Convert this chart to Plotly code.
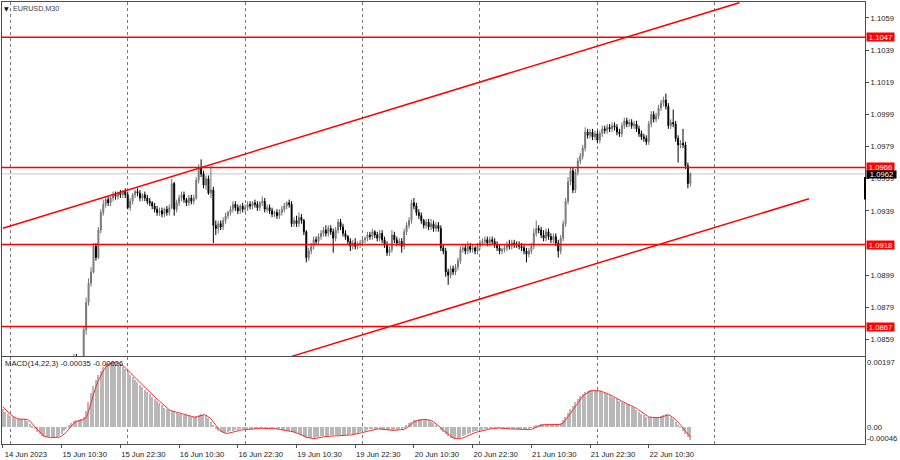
import plotly.graph_objects as go

# ---------------- data ----------------
BASE = 1.0900          # prices below are stored as pips above this base
PIP = 0.0001
first_bar = 29         # earlier bars of 14-15 Jun are below the visible price range
first_open_pips = -56

close_pips = [
    -52, -54, -55, -56, -35, -18, -6, 1, 17, 10,
    27, 38, 43, 46, 44, 47, 49, 48, 50, 49,
    51, 49, 41, 45, 49, 51, 50, 47, 49, 47,
    45, 44, 42, 40, 38, 39, 37, 40, 38, 41,
    56, 40, 44, 47, 49, 46, 44, 47, 45, 47,
    58, 66, 62, 55, 59, 50, 52, 30, 28, 31,
    29, 33, 36, 38, 40, 43, 41, 39, 42, 40,
    41, 43, 42, 44, 43, 41, 44, 45, 40, 41,
    39, 37, 38, 36, 38, 40, 42, 44, 43, 31,
    33, 31, 35, 33, 26, 10, 14, 17, 21, 20,
    23, 25, 27, 25, 28, 26, 22, 27, 32, 29,
    25, 23, 20, 17, 19, 17, 18, 19, 21, 22,
    24, 23, 26, 24, 22, 25, 21, 18, 13, 15,
    24, 21, 19, 20, 17, 26, 30, 33, 44, 42,
    38, 36, 33, 30, 32, 29, 31, 28, 30, 28,
    16, 14, 1, -1, 3, 1, 4, 8, 15, 16,
    14, 17, 15, 16, 14, 17, 19, 20, 21, 19,
    21, 20, 18, 16, 14, 15, 16, 18, 17, 19,
    18, 18, 17, 16, 14, 12, 14, 17, 25, 28,
    27, 24, 22, 26, 23, 21, 23, 19, 14, 22,
    31, 45, 57, 64, 52, 63, 70, 73, 78, 88,
    86, 88, 85, 87, 83, 87, 90, 89, 91, 90,
    92, 91, 88, 87, 92, 95, 93, 94, 92, 93,
    90, 87, 85, 84, 82, 93, 99, 96, 98, 103,
    106, 108, 104, 92, 94, 93, 84, 80, 81, 80,
    67, 56, 62,
]
wick_up_pips = [
    2, 2, 1, 1, 2, 3, 3, 3, 2, 2,
    2, 2, 3, 2, 2, 2, 2, 2, 1, 2,
    1, 2, 2, 2, 1, 1, 2, 2, 1, 2,
    2, 2, 1, 2, 2, 2, 2, 1, 2, 2,
    3, 1, 2, 2, 2, 2, 1, 2, 2, 2,
    2, 2, 5, 2, 2, 2, 15, 2, 3, 2,
    2, 2, 2, 1, 2, 2, 2, 2, 1, 2,
    2, 2, 2, 1, 2, 2, 1, 3, 2, 2,
    2, 2, 1, 2, 2, 2, 2, 1, 2, 2,
    2, 3, 3, 2, 1, 1, 2, 2, 2, 2,
    2, 2, 2, 3, 2, 2, 2, 2, 2, 2,
    2, 2, 1, 2, 2, 3, 2, 2, 2, 1,
    2, 2, 2, 1, 2, 2, 2, 2, 2, 2,
    3, 2, 2, 2, 2, 2, 2, 2, 2, 3,
    2, 2, 2, 1, 2, 2, 3, 2, 2, 2,
    2, 2, 2, 2, 2, 2, 2, 2, 2, 2,
    2, 3, 2, 2, 1, 2, 2, 2, 2, 2,
    2, 2, 2, 2, 2, 1, 2, 2, 3, 2,
    2, 2, 2, 2, 2, 2, 2, 2, 3, 5,
    2, 2, 3, 2, 2, 2, 2, 2, 2, 2,
    2, 2, 3, 2, 2, 2, 2, 2, 2, 3,
    2, 2, 2, 2, 2, 2, 2, 2, 2, 2,
    2, 2, 2, 2, 2, 2, 2, 2, 2, 2,
    2, 2, 2, 2, 2, 2, 2, 2, 2, 2,
    2, 2, 4, 2, 2, 8, 2, 2, 2, 9,
    2, 2, 1,
]
wick_dn_pips = [
    2, 2, 2, 2, 6, 3, 2, 2, 1, 2,
    1, 2, 2, 2, 2, 2, 2, 2, 2, 2,
    2, 2, 1, 2, 2, 2, 2, 2, 2, 2,
    2, 2, 2, 2, 2, 2, 2, 2, 2, 2,
    1, 4, 2, 2, 2, 2, 2, 2, 2, 2,
    1, 2, 2, 2, 3, 1, 3, 11, 4, 3,
    2, 2, 2, 2, 2, 2, 2, 2, 2, 2,
    2, 2, 2, 2, 2, 2, 2, 2, 2, 2,
    2, 2, 2, 2, 2, 2, 2, 2, 2, 2,
    2, 2, 2, 2, 2, 3, 2, 2, 2, 2,
    2, 2, 2, 2, 2, 2, 9, 2, 2, 2,
    2, 2, 2, 3, 2, 2, 2, 2, 2, 2,
    2, 2, 2, 2, 2, 2, 2, 2, 2, 2,
    2, 2, 2, 2, 4, 2, 2, 2, 2, 2,
    2, 2, 2, 2, 2, 2, 2, 2, 2, 2,
    2, 2, 3, 6, 2, 2, 2, 2, 2, 2,
    2, 2, 2, 2, 2, 2, 2, 2, 2, 2,
    2, 2, 2, 2, 2, 2, 2, 2, 2, 2,
    2, 2, 2, 2, 2, 5, 2, 2, 2, 2,
    2, 2, 2, 2, 2, 2, 2, 2, 4, 2,
    2, 2, 2, 2, 2, 2, 2, 2, 2, 2,
    2, 2, 2, 2, 2, 2, 2, 2, 2, 2,
    2, 2, 2, 2, 2, 2, 2, 2, 2, 2,
    2, 2, 2, 2, 2, 2, 2, 2, 2, 2,
    2, 2, 2, 2, 2, 2, 2, 11, 2, 2,
    2, 3, 2,
]

# MACD(14,22,3), units of 1e-5, one value per bar from bar 0 (14 Jun 10:30)
macd_main = [
    50, 43, 37, 32, 28, 25, 24, 24, 23, 23,
    18, 10, 3, -5, -13, -19, -24, -27, -28, -28,
    -28, -28, -27, -24, -19, -12, -4, 5, 13, 17,
    19, 20, 23, 28, 45, 70, 95, 115, 132, 147,
    159, 169, 176, 180, 184, 186, 183, 178, 174, 168,
    162, 155, 147, 140, 133, 126, 119, 112, 105, 98,
    92, 86, 80, 74, 68, 62, 55, 50, 47, 45,
    42, 40, 38, 36, 35, 33, 32, 30, 29, 31,
    34, 36, 35, 31, 25, 16, 6, -3, -10, -14,
    -16, -16, -14, -12, -10, -8, -7, -6, -6, -5,
    -5, -4, -3, -3, -2, -2, -2, -2, -3, -3,
    -4, -4, -5, -6, -7, -8, -9, -10, -12, -15,
    -17, -20, -23, -27, -29, -31, -31, -30, -28, -27,
    -26, -25, -24, -24, -23, -23, -23, -22, -22, -22,
    -21, -21, -20, -19, -18, -16, -14, -12, -10, -8,
    -6, -5, -4, -4, -5, -6, -7, -8, -8, -8,
    -7, -7, -6, -5, -1, 5, 11, 16, 19, 21,
    23, 23, 23, 22, 20, 16, 11, 6, 0, -7,
    -13, -18, -24, -29, -31, -32, -31, -29, -26, -22,
    -18, -16, -14, -12, -10, -9, -7, -5, -4, -3,
    -2, -1, -1, -2, -3, -3, -4, -4, -4, -5,
    -5, -5, -5, -6, -6, -5, -2, 2, 5, 7,
    8, 8, 8, 8, 8, 8, 8, 9, 13, 21,
    30, 40, 50, 60, 70, 80, 88, 94, 99, 102,
    104, 104, 104, 103, 101, 99, 96, 93, 89, 85,
    81, 78, 74, 71, 67, 64, 61, 58, 54, 49,
    44, 38, 33, 30, 29, 28, 28, 28, 29, 32,
    35, 36, 33, 28, 22, 15, 7, -2, -11, -19,
    -27, -35,
]
macd_signal = [
    58, 50, 43, 37, 32, 28, 25, 24, 24, 23,
    23, 18, 10, 3, -5, -13, -19, -24, -27, -28,
    -28, -28, -28, -27, -24, -19, -12, -4, 5, 13,
    17, 19, 20, 23, 28, 45, 70, 95, 115, 132,
    147, 159, 169, 176, 180, 182, 183, 181, 178, 174,
    168, 162, 155, 147, 140, 133, 126, 119, 112, 105,
    98, 92, 86, 80, 74, 68, 62, 55, 50, 47,
    45, 42, 40, 38, 36, 35, 33, 32, 30, 29,
    31, 34, 36, 35, 31, 25, 16, 6, -3, -10,
    -14, -16, -16, -14, -12, -10, -8, -7, -6, -6,
    -5, -5, -4, -3, -3, -2, -2, -2, -2, -3,
    -3, -4, -4, -5, -6, -7, -8, -9, -10, -12,
    -15, -17, -20, -23, -27, -29, -31, -31, -30, -28,
    -27, -26, -25, -24, -24, -23, -23, -23, -22, -22,
    -22, -21, -21, -20, -19, -18, -16, -14, -12, -10,
    -8, -6, -5, -4, -4, -5, -6, -7, -8, -8,
    -8, -7, -7, -6, -5, -1, 5, 11, 16, 19,
    21, 23, 23, 23, 22, 20, 16, 11, 6, 0,
    -7, -13, -18, -24, -29, -31, -32, -31, -29, -26,
    -22, -18, -16, -14, -12, -10, -9, -7, -5, -4,
    -3, -2, -1, -1, -2, -3, -3, -4, -4, -4,
    -5, -5, -5, -5, -6, -6, -5, -2, 2, 5,
    7, 8, 8, 8, 8, 8, 8, 8, 9, 13,
    21, 30, 40, 50, 60, 70, 80, 88, 94, 99,
    102, 104, 104, 104, 103, 101, 99, 96, 93, 89,
    85, 81, 78, 74, 71, 67, 64, 61, 58, 54,
    49, 44, 38, 33, 30, 29, 28, 28, 28, 29,
    32, 35, 36, 33, 28, 22, 15, 7, -2, -11,
    -19, -26,
]
MACD_UNIT = 1e-5
macd_max, macd_min = 0.00197, -0.00046

levels = [1.1047, 1.0966, 1.0918, 1.0867]
bid_price = 1.0962
last_bar_range = [1.0946, 1.0960]   # short black marker on the price scale

upper_trend_bar = [0, 301]
upper_trend_price = [1.09282, 1.10685]
lower_trend_bar = [118, 329.5]
lower_trend_price = [1.08485, 1.09465]

time_tick_bars = [0, 24, 48, 72, 96, 120, 144, 168, 192, 216, 240, 264]
time_tick_labels = ["14 Jun 2023", "15 Jun 10:30", "15 Jun 22:30", "16 Jun 10:30",
                    "16 Jun 22:30", "19 Jun 10:30", "19 Jun 22:30", "20 Jun 10:30",
                    "20 Jun 22:30", "21 Jun 10:30", "21 Jun 22:30", "22 Jun 10:30"]
grid_bars = [3, 51, 99, 147, 195, 243, 291]
# 1.0919 sits under the 1.0918 level tag, so it is not shown
price_ticks = [1.1059, 1.1039, 1.1019, 1.0999, 1.0979, 1.0959,
               1.0939, 1.0899, 1.0879, 1.0859]
price_range = [1.084847, 1.106891]
bar_range = [-0.4, 352.4]

# ---------------- derived OHLC ----------------
open_pips = [first_open_pips] + close_pips[:-1]
bars = list(range(first_bar, first_bar + len(close_pips)))
o = [BASE + v * PIP for v in open_pips]
c = [BASE + v * PIP for v in close_pips]
h = [BASE + (max(a, b) + u) * PIP for a, b, u in zip(open_pips, close_pips, wick_up_pips)]
l = [BASE + (min(a, b) - d) * PIP for a, b, d in zip(open_pips, close_pips, wick_dn_pips)]
macd_x = list(range(len(macd_main)))

FONT = "Liberation Sans, Arial, sans-serif"
AXC = "#4d4d4d"
TXT = "#222222"

fig = go.Figure()
fig.add_trace(go.Candlestick(
    x=bars, open=o, high=h, low=l, close=c, xaxis="x", yaxis="y",
    increasing=dict(line=dict(color="#737373", width=1), fillcolor="#a8a8a8"),
    decreasing=dict(line=dict(color="#000000", width=1), fillcolor="#000000"),
    whiskerwidth=0, hoverinfo="skip", showlegend=False))
fig.add_trace(go.Scatter(x=upper_trend_bar, y=upper_trend_price, mode="lines",
                         line=dict(color="#ff0000", width=1.5), xaxis="x", yaxis="y",
                         hoverinfo="skip", showlegend=False))
fig.add_trace(go.Scatter(x=lower_trend_bar, y=lower_trend_price, mode="lines",
                         line=dict(color="#ff0000", width=1.5), xaxis="x", yaxis="y",
                         hoverinfo="skip", showlegend=False))
fig.add_trace(go.Bar(x=macd_x, y=[v * MACD_UNIT for v in macd_main], width=0.5,
                     marker=dict(color="#b8b8b8", line=dict(width=0)),
                     xaxis="x2", yaxis="y2", hoverinfo="skip", showlegend=False))
fig.add_trace(go.Scatter(x=macd_x, y=[v * MACD_UNIT for v in macd_signal], mode="lines",
                         line=dict(color="#ff2a2a", width=1), xaxis="x2", yaxis="y2",
                         hoverinfo="skip", showlegend=False))

shapes = []
shapes.append(dict(type="line", xref="paper", x0=0, x1=1, yref="y", y0=bid_price, y1=bid_price,
                   line=dict(color="#c8c8c8", width=1), layer="below"))
for lv in levels:
    shapes.append(dict(type="line", xref="paper", x0=0, x1=1, yref="y", y0=lv, y1=lv,
                       line=dict(color="#ff0000", width=1.5)))
shapes.append(dict(type="line", xref="paper", x0=1, x1=1, yref="y",
                   y0=last_bar_range[0], y1=last_bar_range[1],
                   line=dict(color="#000000", width=2)))

annotations = []
for lv in levels:
    annotations.append(dict(xref="paper", x=1, xanchor="left", xshift=1, yref="y", y=lv,
                            yanchor="middle", text=f"{lv:.4f}", showarrow=False,
                            bgcolor="#ff0000", width=27, height=8, borderpad=0,
                            font=dict(family=FONT, size=7.7, color="white")))
annotations.append(dict(xref="paper", x=1, xanchor="left", xshift=1, yref="y", y=bid_price,
                        yanchor="middle", yshift=-1, text=f"{bid_price:.4f}", showarrow=False,
                        bgcolor="#000000", width=29, height=7, borderpad=0,
                        font=dict(family=FONT, size=7.7, color="white")))
for val, anc in [(macd_max, "top"), (0.0, "middle"), (macd_min, "bottom")]:
    annotations.append(dict(xref="paper", x=1, xanchor="left", xshift=1, yref="y2", y=val,
                            yanchor=anc, text=("0.00" if val == 0 else f"{val:.5f}"),
                            showarrow=False, borderpad=0,
                            font=dict(family=FONT, size=7.7, color=TXT)))
annotations.append(dict(xref="paper", x=0, xanchor="left", xshift=1, yref="paper", y=1,
                        yanchor="top", yshift=-2, text="\u25BC", showarrow=False, borderpad=0,
                        font=dict(family="DejaVu Sans", size=6, color="#111")))
annotations.append(dict(xref="paper", x=0, xanchor="left", xshift=10, yref="paper", y=1,
                        yanchor="top", yshift=-1, text="EURUSD,M30", showarrow=False, borderpad=0,
                        font=dict(family=FONT, size=7.2, color="#3a3f46")))
annotations.append(dict(xref="paper", x=0, xanchor="left", xshift=2, yref="y2 domain", y=1,
                        yanchor="top", yshift=-1,
                        text=f"MACD(14,22,3) {macd_main[-1]*MACD_UNIT:.5f} {macd_signal[-1]*MACD_UNIT:.5f}",
                        showarrow=False, borderpad=0,
                        font=dict(family=FONT, size=7.7, color=TXT)))

minor_grid = dict(tickmode="array", tickvals=grid_bars, showgrid=True, gridcolor="#7a7a7a",
                  griddash="dot", gridwidth=1, ticks="")

fig.update_layout(
    width=900, height=460,
    margin=dict(l=2, r=35, t=1, b=15),
    paper_bgcolor="white", plot_bgcolor="white",
    font=dict(family=FONT, size=7.7, color=TXT),
    showlegend=False, hovermode=False, boxgap=0.45, bargap=0,
    xaxis=dict(domain=[0, 1], anchor="y", range=bar_range, showticklabels=False,
               tickmode="array", tickvals=time_tick_bars, ticks="", showgrid=False,
               zeroline=False, showline=True, mirror=True, linecolor=AXC, linewidth=1,
               minor=minor_grid, rangeslider=dict(visible=False), fixedrange=True),
    xaxis2=dict(domain=[0, 1], anchor="y2", matches="x", range=bar_range,
                tickmode="array", tickvals=time_tick_bars, ticktext=time_tick_labels,
                ticks="outside", ticklen=3, tickcolor=AXC, ticklabelshift=23,
                tickfont=dict(family=FONT, size=7.7, color=TXT),
                showgrid=False, zeroline=False, showline=True, mirror=True,
                linecolor=AXC, linewidth=1, minor=minor_grid, fixedrange=True),
    yaxis=dict(domain=[0.1982, 1], anchor="x", range=price_range, side="right",
               tickmode="array", tickvals=price_ticks,
               ticktext=[f"{p:.4f}" for p in price_ticks],
               ticks="outside", ticklen=3, tickcolor=AXC,
               tickfont=dict(family=FONT, size=7.7, color=TXT),
               showgrid=False, zeroline=False, showline=True, mirror=True,
               linecolor=AXC, linewidth=1, fixedrange=True),
    yaxis2=dict(domain=[0, 0.1959], anchor="x2", range=[macd_min, macd_max], side="right",
                showticklabels=False, ticks="", showgrid=False, zeroline=False,
                showline=True, mirror=True, linecolor=AXC, linewidth=1, fixedrange=True),
    shapes=shapes, annotations=annotations,
)

fig.write_html("out.html", config={"displayModeBar": False},
               post_script="document.body.style.margin='0';document.body.style.overflow='hidden';")
